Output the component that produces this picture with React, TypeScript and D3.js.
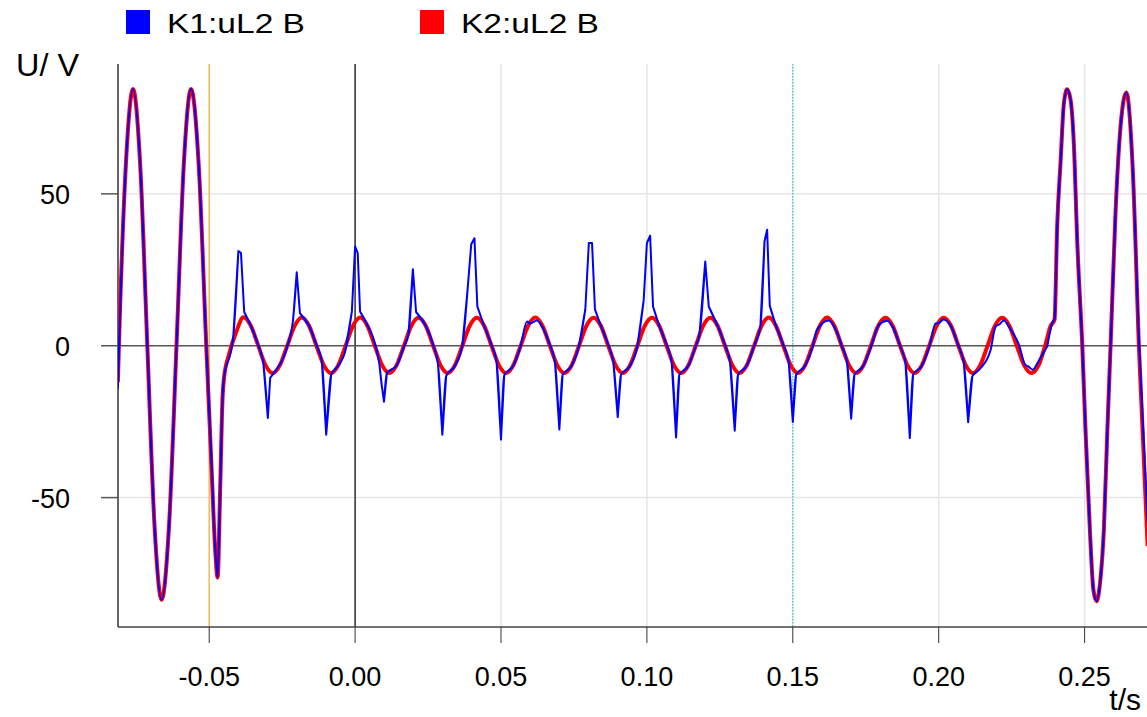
import React from 'react';
import * as d3 from 'd3';

// ---------- data (time in ms, voltage in V) ----------
const X_TICKS = [-0.05, 0.0, 0.05, 0.1, 0.15, 0.2, 0.25];
const Y_TICKS = [-50, 0, 50];
const SERIES_NAMES = ['K1:uL2 B', 'K2:uL2 B'];
const SERIES_COLORS = ['#0000ff', '#ff0000'];
const MARKERS = [
  { t: -0.05, color: '#f2b43a', dash: '' },
  { t: 0.0, color: '#000000', dash: '' },
  { t: 0.15, color: '#2cc3ea', dash: '1.5,1.5' },
];

// K2 (red): big oscillation at the start
const K2_ONSET: [number, number][] = [
  [-81.3, -12], [-81.0, -2], [-78.55, 59.7], [-76.1, 84.5], [-73.65, 59.7], [-71.2, 0],
  [-68.75, -59.0], [-66.3, -83.6], [-63.75, -59.0], [-61.2, 0],
  [-58.7, 59.7], [-56.2, 84.5], [-53.6, 59.7], [-51.0, 0],
  [-49.2, -40.0], [-48.0, -66.0], [-47.1, -76.3], [-46.3, -49.6], [-45.4, -16.7], [-44.9, -10.5],
];
// K2 (red): steady 50 Hz part, one value every 2.5 ms starting at -43.25 ms
const K2_STEADY_T0 = -43.25;
const K2_STEADY_STEP = 2.5;
const K2_STEADY: number[] = [
  -3.0, 4.5, 9.4, 6.6, 0.2, -6.3, -9.0, -6.4,
  0.0, 6.5, 9.3, 6.5, 0.0, -6.4, -9.0, -6.4,
  0.0, 6.5, 9.3, 6.5, 0.0, -6.4, -9.0, -6.4,
  0.0, 6.5, 9.2, 6.5, 0.0, -6.4, -9.0, -6.4,
  0.0, 6.5, 9.2, 6.5, 0.0, -6.4, -9.0, -6.4,
  0.0, 6.5, 9.3, 6.5, 0.0, -6.4, -9.0, -6.4,
  0.0, 6.5, 9.2, 6.5, 0.0, -6.4, -9.0, -6.4,
  0.0, 6.5, 9.2, 6.5, 0.0, -6.4, -9.0, -6.4,
  0.0, 6.5, 9.2, 6.5, 0.0, -6.4, -9.0, -6.4,
  0.0, 6.5, 9.3, 6.5, 0.0, -6.4, -9.0, -6.4,
  0.0, 6.5, 9.3, 6.5, 0.0, -6.4, -9.0, -6.4,
  0.0, 6.5, 9.2, 6.5, 0.0, -6.4, -9.0, -6.4,
  0.0, 6.5, 9.2, 6.5, 0.0, -6.4, -9.0, -6.4,
  0.0, 6.5, 9.2, 6.5, 0.0, -6.4, -9.0, -6.4,
  1.0,
];
// K2 (red): big oscillation at the end
const K2_TAIL: [number, number][] = [
  [238.3, 6.4], [239.7, 8.6], [240.6, 39.3], [241.8, 61.2], [242.9, 79.8], [244.0, 84.4],
  [245.2, 80.9], [246.3, 66.7], [247.5, 33.8], [249.2, 0], [250.3, -27.6], [251.8, -60.5],
  [253.0, -80.3], [254.1, -84.1], [255.3, -78.0], [256.6, -60.5], [257.8, -27.6], [258.9, 0],
  [260.6, 44.0], [262.3, 72.0], [264.3, 83.4], [266.5, 58.0], [268.6, 0], [271.6, -66.0],
];

// K1 (blue)
const K1_ONSET: [number, number][] = [
  [-81.3, -14], [-81.0, -4], [-78.55, 59.7], [-76.1, 84.5], [-73.65, 59.7], [-71.2, 0],
  [-68.75, -59.0], [-66.3, -83.6], [-63.75, -59.0], [-61.2, 0],
  [-58.7, 59.7], [-56.2, 84.5], [-53.6, 59.7], [-51.0, 0],
  [-49.2, -38.6], [-48.0, -66.0], [-47.1, -76.3], [-46.3, -49.6], [-45.4, -16.7], [-44.9, -10.1],
];
const K1_STEADY: [number, number][] = [
  [-43.5, -5.0], [-41.7, 3.6], [-40.0, 31.2], [-39.1, 30.5], [-38.0, 11.1], [-35.75, 6.6], [-33.25, 0.3],
  [-31.4, -6.2], [-29.9, -23.8], [-29.1, -10.6], [-27.4, -8.4], [-24.6, -4.0], [-23.25, -0.2],
  [-21.2, 9.1], [-20.0, 24.2], [-18.9, 10.7], [-15.75, 6.5], [-13.25, 0.3], [-11.4, -5.2], [-9.9, -29.3],
  [-8.2, -9.5], [-5.75, -6.5], [-3.4, -1.9],
  [-1.1, 11.3], [0.0, 32.7], [0.9, 30.5], [1.7, 11.3], [4.25, 6.8], [6.75, 0.8], [8.3, -6.0], [9.1, -12.8],
  [9.9, -18.4], [10.9, -9.0], [14.25, -6.5], [16.75, -0.2],
  [18.3, 3.8], [19.8, 25.2], [20.9, 11.1], [24.25, 6.5], [26.75, 0.3], [28.4, -6.0], [29.9, -29.3],
  [31.2, -10.0], [34.25, -6.5], [36.75, 0],
  [38.5, 17.9], [39.8, 33.4], [40.9, 35.4], [41.9, 12.9], [44.25, 6.5], [46.75, 0.3], [48.5, -5.5],
  [50.0, -30.9], [51.1, -9.8], [54.25, -6.5], [56.75, 0],
  [58.9, 8.0], [60.0, 7.3], [62.3, 8.3], [64.25, 6.0], [66.75, 0.3], [68.5, -5.5], [70.0, -27.6],
  [71.1, -9.6], [74.25, -6.5], [76.75, 0],
  [78.9, 12.0], [80.1, 33.8], [81.2, 33.8], [82.2, 12.0], [84.25, 6.5], [86.75, 0.3], [88.5, -5.5],
  [90.0, -23.5], [91.1, -9.6], [94.25, -6.5], [96.75, 0],
  [98.9, 15.0], [100.0, 33.8], [101.1, 36.2], [102.1, 12.9], [104.25, 6.5], [106.75, 0.3], [108.5, -5.5],
  [110.0, -30.2], [111.1, -9.6], [114.25, -6.5], [116.75, 0],
  [118.0, 3.5], [120.0, 27.7], [121.2, 12.9], [124.25, 6.5], [126.75, 0.3], [128.5, -5.5], [130.1, -28.0],
  [131.2, -9.6], [134.25, -6.5], [136.75, 0],
  [138.9, 6.4], [140.3, 34.3], [141.2, 38.2], [142.1, 13.2], [144.25, 6.5], [146.75, 0.3], [148.6, -5.5],
  [150.0, -25.1], [151.1, -9.6], [154.25, -6.5], [156.75, -0.5],
  [158.3, 5.3], [162.3, 8.3], [165.2, 4.2], [166.75, 0], [168.6, -5.5], [170.0, -24.0], [171.1, -9.6],
  [174.25, -6.5], [176.75, -0.5],
  [179.5, 6.9], [182.4, 8.2], [184.25, 6.2], [186.75, 0], [188.6, -5.5], [190.1, -30.4], [191.2, -9.6],
  [194.25, -6.5], [196.75, -0.5],
  [198.9, 7.3], [199.8, 7.4], [201.7, 8.6], [204.25, 6.3], [206.75, 0], [208.6, -5.5], [210.1, -25.2],
  [211.5, -10.1], [214.25, -7.5], [217.8, -1.3],
  [219.5, 6.4], [220.6, 6.9], [222.3, 8.3], [224.25, 6.0], [227.5, 0.3], [229.6, -6.2], [230.7, -6.8],
  [232.2, -7.9], [234.25, -5.0], [237.2, -0.2],
];
const K1_TAIL: [number, number][] = [
  [238.9, 7.5], [239.7, 9.0], [240.6, 39.3], [241.8, 61.2], [242.9, 79.8], [244.0, 84.4],
  [245.2, 80.9], [246.3, 66.7], [247.5, 33.8], [249.2, 0], [250.3, -27.6], [251.8, -60.5],
  [253.0, -80.3], [254.1, -84.1], [255.3, -78.0], [256.6, -60.5], [257.8, -27.6], [258.9, 0],
  [260.6, 44.0], [262.3, 72.0], [264.3, 83.4], [266.5, 58.0], [268.6, 2.0], [271.6, -58.0],
];

// ---------- layout ----------
const W = 1147;
const H = 717;
const PLOT = { left: 118, right: 1147, top: 64, bottom: 627 };
const FONT = "'Liberation Sans', Arial, Helvetica, sans-serif";

type Pt = [number, number];

// split the steady K1 trace into smooth runs and sharp (linear) spike runs
function buildSpikyPath(
  pts: Pt[],
  smooth: d3.Line<Pt>,
  sharp: d3.Line<Pt>,
): string {
  const isSpike = (p: Pt) => Math.abs(p[1]) > 10.5;
  let d = '';
  let i = 0;
  while (i < pts.length) {
    if (!isSpike(pts[i])) {
      const run: Pt[] = [];
      if (i > 0) run.push(pts[i - 1]);
      while (i < pts.length && !isSpike(pts[i])) run.push(pts[i++]);
      if (i < pts.length) run.push(pts[i]);
      d += smooth(run) || '';
    } else {
      const run: Pt[] = [];
      if (i > 0) run.push(pts[i - 1]);
      while (i < pts.length && isSpike(pts[i])) run.push(pts[i++]);
      if (i < pts.length) run.push(pts[i]);
      d += sharp(run) || '';
    }
  }
  return d;
}

export default function App() {
  const x = d3.scaleLinear().domain([-0.08125, 0.27138]).range([PLOT.left, PLOT.right]);
  const y = d3.scaleLinear().domain([-92.6, 92.75]).range([PLOT.bottom, PLOT.top]);

  const k2: Pt[] = [
    ...K2_ONSET,
    ...K2_STEADY.map((v, i) => [K2_STEADY_T0 + i * K2_STEADY_STEP, v] as Pt),
    ...K2_TAIL,
  ];

  const smooth = d3
    .line<Pt>()
    .x((d) => x(d[0] / 1000))
    .y((d) => y(d[1]))
    .curve(d3.curveMonotoneX);
  const sharp = d3
    .line<Pt>()
    .x((d) => x(d[0] / 1000))
    .y((d) => y(d[1]))
    .curve(d3.curveLinear);

  const k1Path =
    (smooth([...K1_ONSET, K1_STEADY[0]]) || '') +
    buildSpikyPath(K1_STEADY, smooth, sharp) +
    (smooth([K1_STEADY[K1_STEADY.length - 1], ...K1_TAIL]) || '');

  const fmt = (t: number) => d3.format('.2f')(t).replace('\u2212', '-');

  return (
    <svg
      width={W}
      height={H}
      style={{ position: 'absolute', left: 0, top: 0, background: '#fff' }}
      fontFamily={FONT}
    >
      <defs>
        <clipPath id="plotclip">
          <rect x={PLOT.left} y={PLOT.top - 10} width={PLOT.right - PLOT.left} height={PLOT.bottom - PLOT.top + 10} />
        </clipPath>
      </defs>
      <rect x={0} y={0} width={W} height={H} fill="#fff" />

      {/* grid */}
      {X_TICKS.map((t) => (
        <line key={'gx' + t} x1={x(t)} x2={x(t)} y1={PLOT.top} y2={PLOT.bottom} stroke="#e6e6e6" strokeWidth={1.5} />
      ))}
      {Y_TICKS.filter((v) => v !== 0).map((v) => (
        <line key={'gy' + v} x1={PLOT.left} x2={PLOT.right} y1={y(v)} y2={y(v)} stroke="#e6e6e6" strokeWidth={1.5} />
      ))}

      {/* markers */}
      {MARKERS.map((m) => (
        <line
          key={'m' + m.t}
          x1={x(m.t)}
          x2={x(m.t)}
          y1={PLOT.top}
          y2={PLOT.bottom}
          stroke={m.color}
          strokeWidth={1.2}
          strokeDasharray={m.dash || undefined}
        />
      ))}

      {/* zero line */}
      <line x1={PLOT.left} x2={PLOT.right} y1={y(0)} y2={y(0)} stroke="#555" strokeWidth={1.5} />

      {/* axes */}
      <line x1={PLOT.left} x2={PLOT.left} y1={PLOT.top} y2={PLOT.bottom} stroke="#333" strokeWidth={1.5} />
      <line x1={PLOT.left} x2={PLOT.right} y1={PLOT.bottom} y2={PLOT.bottom} stroke="#444" strokeWidth={1.5} />
      {Y_TICKS.map((v) => (
        <g key={'yt' + v}>
          <line x1={101} x2={PLOT.left} y1={y(v)} y2={y(v)} stroke="#555" strokeWidth={1.5} />
          <text x={70} y={y(v) + 10} textAnchor="end" fontSize={27} fill="#000">
            {String(v)}
          </text>
        </g>
      ))}
      {X_TICKS.map((t) => (
        <g key={'xt' + t}>
          <line x1={x(t)} x2={x(t)} y1={PLOT.bottom} y2={PLOT.bottom + 16} stroke="#333" strokeWidth={1} />
          <text x={x(t)} y={686} textAnchor="middle" fontSize={27} fill="#000">
            {fmt(t)}
          </text>
        </g>
      ))}

      {/* axis titles */}
      <text x={16} y={76} fontSize={31} fill="#000" textLength={63} lengthAdjust="spacingAndGlyphs">
        U/ V
      </text>
      <text x={1141} y={710} textAnchor="end" fontSize={30} fill="#000">
        t/s
      </text>

      {/* data */}
      <g clipPath="url(#plotclip)">
        <path d={smooth(k2) || ''} fill="none" stroke={SERIES_COLORS[1]} strokeWidth={4} strokeLinejoin="round" />
        <path
          d={k1Path}
          fill="none"
          stroke={SERIES_COLORS[0]}
          strokeWidth={2}
          strokeLinejoin="round"
          strokeLinecap="round"
        />
      </g>

      {/* legend */}
      {SERIES_NAMES.map((name, i) => (
        <g key={name} transform={`translate(${126 + i * 294},0)`}>
          <rect x={0} y={10} width={24} height={24} fill={SERIES_COLORS[i]} />
          <text x={41} y={33} fontSize={28} fill="#000" textLength={138} lengthAdjust="spacingAndGlyphs">
            {name}
          </text>
        </g>
      ))}
    </svg>
  );
}
